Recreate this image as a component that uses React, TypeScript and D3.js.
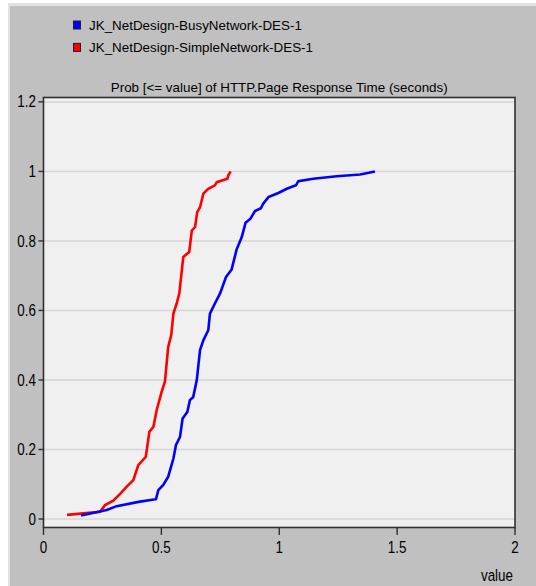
import React from 'react';
import * as d3 from 'd3';

// series: [value (s), cumulative probability]
const busyNetwork: [number, number][] = [
  [0.159, 0.01], [0.268, 0.026], [0.31, 0.037], [0.409, 0.05], [0.477, 0.057],
  [0.487, 0.083], [0.508, 0.098], [0.529, 0.122], [0.551, 0.174], [0.562, 0.213],
  [0.579, 0.236], [0.59, 0.289], [0.61, 0.308], [0.621, 0.342], [0.635, 0.351],
  [0.65, 0.399], [0.664, 0.486], [0.678, 0.514], [0.699, 0.543], [0.706, 0.591],
  [0.727, 0.62], [0.749, 0.649], [0.774, 0.696], [0.798, 0.718], [0.819, 0.775],
  [0.841, 0.811], [0.857, 0.852], [0.878, 0.864], [0.897, 0.886], [0.922, 0.894],
  [0.932, 0.907], [0.954, 0.926], [0.996, 0.938], [1.032, 0.95], [1.071, 0.96],
  [1.081, 0.972], [1.144, 0.979], [1.244, 0.986], [1.343, 0.991], [1.406, 1.0],
];

const simpleNetwork: [number, number][] = [
  [0.1, 0.012], [0.24, 0.021], [0.261, 0.04], [0.296, 0.053], [0.327, 0.074],
  [0.353, 0.093], [0.381, 0.112], [0.402, 0.155], [0.434, 0.179], [0.449, 0.251],
  [0.466, 0.265], [0.48, 0.313], [0.501, 0.366], [0.515, 0.395], [0.529, 0.495],
  [0.542, 0.53], [0.551, 0.591], [0.565, 0.62], [0.576, 0.649], [0.593, 0.754],
  [0.618, 0.768], [0.629, 0.83], [0.643, 0.84], [0.652, 0.883], [0.664, 0.897],
  [0.678, 0.936], [0.699, 0.95], [0.727, 0.96], [0.735, 0.969], [0.78, 0.979],
  [0.784, 0.989], [0.794, 1.0],
];

const seriesNames = ['JK_NetDesign-BusyNetwork-DES-1', 'JK_NetDesign-SimpleNetwork-DES-1'];
const seriesColors = ['#0000ff', '#ff0000'];
const xTicks = [0, 0.5, 1, 1.5, 2];
const xTickLabels = ['0', '0.5', '1', '1.5', '2'];
const yTicks = [0, 0.2, 0.4, 0.6, 0.8, 1, 1.2];
const yTickLabels = ['0', '0.2', '0.4', '0.6', '0.8', '1', '1.2'];
const title = 'Prob [<= value] of HTTP.Page Response Time (seconds)';
const xTitle = 'value';

const W = 536;
const H = 586;
const plot = { left: 43.5, right: 515, top: 97.5, bottom: 527.5 };
const font = '"Liberation Sans", Arial, sans-serif';

export default function App() {
  const x = d3.scaleLinear().domain([0, 2]).range([plot.left, plot.right]);
  // frame extends a bit past 1.2 on top and below 0
  const y = d3.scaleLinear().domain([-0.0244, 1.2126]).range([plot.bottom, plot.top]);

  const line = d3
    .line<[number, number]>()
    .x((d) => x(d[0]))
    .y((d) => y(d[1]));

  const stretch = (px: number, py: number) => `translate(${px},${py}) scale(1,1.2)`;

  return (
    <svg
      width={W}
      height={H}
      style={{ position: 'absolute', left: 0, top: 0 }}
      fontFamily={font}
    >
      <rect width={W} height={H} fill="#ffffff" />
      <rect x={8} y={3} width={W - 8} height={H - 3} fill="#e2e2e2" />
      <rect x={10} y={6} width={W - 10} height={H - 6} fill="#c0c0c0" />

      {/* legend */}
      {seriesNames.map((name, i) => (
        <g key={name}>
          <rect
            x={73.5}
            y={21 + i * 22.4}
            width={7}
            height={8}
            fill={seriesColors[i]}
            stroke="#202020"
            strokeWidth={1}
          />
          <text x={89} y={30 + i * 22.4} fontSize={13.4} fill="#000">
            {name}
          </text>
        </g>
      ))}

      <text x={(plot.left + plot.right) / 2} y={92} fontSize={13.4} textAnchor="middle" fill="#000">
        {title}
      </text>

      {/* plot area */}
      <rect
        x={plot.left}
        y={plot.top}
        width={plot.right - plot.left}
        height={plot.bottom - plot.top}
        fill="#f0f0f0"
      />
      {yTicks.map((t) => (
        <line
          key={'g' + t}
          x1={plot.left}
          x2={plot.right}
          y1={y(t)}
          y2={y(t)}
          stroke="#d6d6d6"
          strokeWidth={1.5}
        />
      ))}

      <path d={line(simpleNetwork) ?? ''} fill="none" stroke={seriesColors[1]} strokeWidth={2.6} />
      <path d={line(busyNetwork) ?? ''} fill="none" stroke={seriesColors[0]} strokeWidth={2.6} />

      <rect
        x={plot.left}
        y={plot.top}
        width={plot.right - plot.left}
        height={plot.bottom - plot.top}
        fill="none"
        stroke="#303030"
        strokeWidth={1.6}
      />

      {/* y axis */}
      {yTicks.map((t, i) => (
        <g key={'y' + t}>
          <line x1={plot.left - 5} x2={plot.left} y1={y(t)} y2={y(t)} stroke="#303030" strokeWidth={1.4} />
          <text transform={stretch(36, y(t) + 5.6)} fontSize={13.4} textAnchor="end" fill="#000">
            {yTickLabels[i]}
          </text>
        </g>
      ))}

      {/* x axis */}
      {xTicks.map((t, i) => (
        <g key={'x' + t}>
          <line x1={x(t)} x2={x(t)} y1={plot.bottom} y2={plot.bottom + 7.5} stroke="#303030" strokeWidth={1.4} />
          <text transform={stretch(x(t), 553)} fontSize={13.4} textAnchor="middle" fill="#000">
            {xTickLabels[i]}
          </text>
        </g>
      ))}
      <text transform={stretch(513, 581)} fontSize={13.4} textAnchor="end" fill="#000">
        {xTitle}
      </text>
    </svg>
  );
}
